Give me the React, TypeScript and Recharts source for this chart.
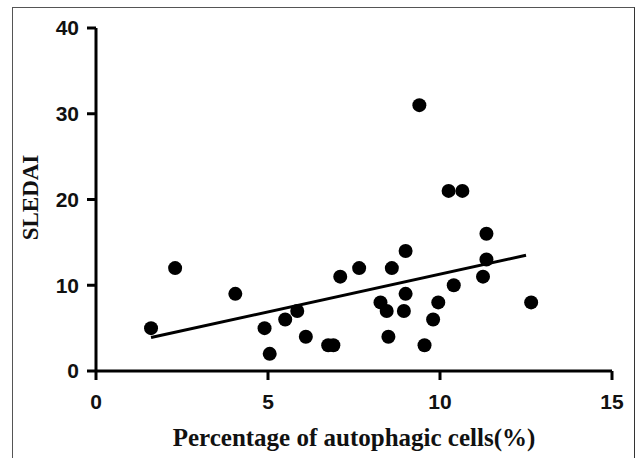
import React from 'react';
import {
  ScatterChart,
  Scatter,
  XAxis,
  YAxis,
  ReferenceLine,
} from 'recharts';

// percentage of autophagic cells (%) per patient
const autophagy = [
  1.6, 2.3, 4.05, 4.9, 5.05, 5.5, 5.85, 6.1, 6.75, 6.9,
  7.1, 7.65, 8.27, 8.45, 8.5, 8.6, 8.95, 9.0, 9.0, 9.4,
  9.55, 9.8, 9.95, 10.25, 10.4, 10.65, 11.25, 11.35, 11.35, 12.65,
];
// SLEDAI score per patient
const sledai = [
  5, 12, 9, 5, 2, 6, 7, 4, 3, 3,
  11, 12, 8, 7, 4, 12, 7, 14, 9, 31,
  3, 6, 8, 21, 10, 21, 11, 13, 16, 8,
];
// regression line end points
const fitX = [1.6, 12.5];
const fitY = [3.9, 13.5];

const xTicks = [0, 5, 10, 15];
const yTicks = [0, 10, 20, 30, 40];

const points = autophagy.map((x, i) => ({ x, y: sledai[i] }));

const tickFont = {
  fontFamily: '"Liberation Sans", Arial, sans-serif',
  fontWeight: 700,
  fontSize: 21,
  fill: '#111',
};
const titleFont = {
  fontFamily: '"Liberation Serif", "Times New Roman", serif',
  fontWeight: 700,
  fontSize: 25,
  fill: '#111',
};

const Dot = (props: any) => <circle cx={props.cx} cy={props.cy} r={7} fill="#000" />;

const YTitle = (props: any) => {
  const { viewBox } = props;
  const cy = viewBox.y + viewBox.height / 2 - 2;
  return (
    <text
      x={30}
      y={cy}
      transform={`rotate(-90, 30, ${cy})`}
      textAnchor="middle"
      dominantBaseline="central"
      style={{ ...titleFont, fontSize: 23 }}
    >
      SLEDAI
    </text>
  );
};

export default function App() {
  return (
    <div style={{ position: 'absolute', left: 0, top: 0, width: 635, height: 458, background: '#fff' }}>
      <div
        style={{
          position: 'absolute',
          left: 12,
          top: 7,
          width: 621,
          height: 460,
          borderLeft: '1.5px solid #555',
          borderTop: '1.5px solid #555',
          borderRight: '1.5px solid #333',
        }}
      />
      <ScatterChart width={635} height={458} margin={{ top: 28, right: 23, bottom: 0, left: 0 }}>
        <XAxis
          type="number"
          dataKey="x"
          domain={[0, 15]}
          ticks={xTicks}
          height={87}
          axisLine={{ stroke: '#000', strokeWidth: 3 }}
          tickLine={{ stroke: '#000', strokeWidth: 3 }}
          tickSize={9}
          tickMargin={14}
          tick={tickFont}
          label={{
            value: 'Percentage of autophagic cells(%)',
            position: 'insideBottom',
            offset: 12,
            style: titleFont,
          }}
        />
        <YAxis
          type="number"
          dataKey="y"
          domain={[0, 40]}
          ticks={yTicks}
          width={96}
          axisLine={{ stroke: '#000', strokeWidth: 3 }}
          tickLine={{ stroke: '#000', strokeWidth: 3 }}
          tickSize={9}
          tickMargin={8}
          tick={tickFont}
          label={<YTitle />}
        />
        <Scatter data={points} fill="#000" shape={<Dot />} isAnimationActive={false} />
        <ReferenceLine
          segment={[
            { x: fitX[0], y: fitY[0] },
            { x: fitX[1], y: fitY[1] },
          ]}
          stroke="#000"
          strokeWidth={3}
          ifOverflow="visible"
        />
      </ScatterChart>
    </div>
  );
}
